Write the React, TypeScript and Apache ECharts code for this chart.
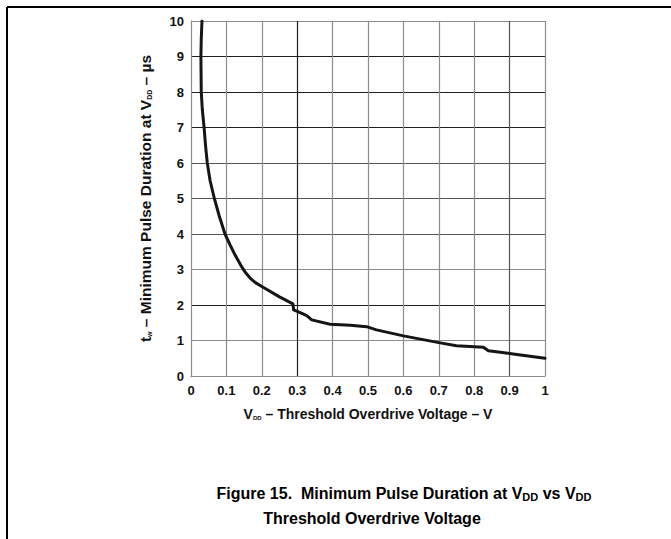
import React, { useEffect, useRef } from "react";
import * as echarts from "echarts";

// Threshold overdrive voltage (V)
const overdriveV = [
  0.031, 0.029, 0.028, 0.029, 0.032, 0.037, 0.041, 0.046, 0.054, 0.066, 0.080, 0.096, 0.110,
  0.125, 0.143, 0.155, 0.167, 0.182, 0.200, 0.250, 0.288, 0.290, 0.310, 0.327, 0.341, 0.393, 0.450,
  0.496, 0.524, 0.600, 0.700, 0.750, 0.826, 0.840, 0.910, 1.000,
];
// Minimum pulse duration (µs)
const pulseUs = [
  10.0, 9.5, 9.0, 8.0, 7.5, 7.0, 6.5, 6.0, 5.5, 5.0, 4.5, 4.0, 3.7,
  3.4, 3.08, 2.9, 2.76, 2.63, 2.52, 2.23, 2.03, 1.86, 1.78, 1.70, 1.58, 1.46, 1.43,
  1.39, 1.30, 1.13, 0.94, 0.85, 0.81, 0.71, 0.62, 0.50,
];

const xTicks = [0, 0.1, 0.2, 0.3, 0.4, 0.5, 0.6, 0.7, 0.8, 0.9, 1];
const yTicks = [0, 1, 2, 3, 4, 5, 6, 7, 8, 9, 10];

const G = "#8c8c8c";
const M = "#555555";
const D = "#1e1e1e";
const xGridColors = [G, G, G, D, G, G, G, G, G, M, G];
const yGridColors = [G, G, D, G, M, M, M, D, D, D, G];

const FONT = "Liberation Sans, Arial, Helvetica, sans-serif";

export default function App() {
  const ref = useRef<HTMLDivElement>(null);
  useEffect(() => {
    if (!ref.current) return;
    const chart = echarts.init(ref.current, undefined, { renderer: "svg" });
    const data = overdriveV.map((v, i) => [v, pulseUs[i]]);
    chart.setOption({
      animation: false,
      backgroundColor: "#ffffff",
      grid: { left: 191, right: 126, top: 21, bottom: 163 },
      xAxis: {
        type: "value",
        min: xTicks[0],
        max: xTicks[xTicks.length - 1],
        interval: 0.1,
        axisLine: { show: true, lineStyle: { color: G, width: 1 } },
        axisTick: { show: false },
        axisLabel: {
          color: "#111",
          fontFamily: FONT,
          fontWeight: "bold",
          fontSize: 13,
          margin: 8,
        },
        splitLine: { show: true, lineStyle: { color: xGridColors, width: 1.2 } },
        name: "{v|V}{sub|DD}{t| – Threshold Overdrive Voltage – V}",
        nameLocation: "middle",
        nameGap: 31,
        nameTextStyle: {
          rich: {
            v: { fontFamily: FONT, fontWeight: "bold", fontSize: 14, color: "#111" },
            t: { fontFamily: FONT, fontWeight: "bold", fontSize: 14, color: "#111" },
            sub: {
              fontFamily: FONT,
              fontWeight: "bold",
              fontSize: 6,
              color: "#111",
              verticalAlign: "bottom",
              padding: [6, 0, 0, 0],
            },
          },
        },
      },
      yAxis: {
        type: "value",
        min: yTicks[0],
        max: yTicks[yTicks.length - 1],
        interval: 1,
        axisLine: { show: true, lineStyle: { color: G, width: 1 } },
        axisTick: { show: false },
        axisLabel: {
          color: "#111",
          fontFamily: FONT,
          fontWeight: "bold",
          fontSize: 13,
          margin: 7,
        },
        splitLine: { show: true, lineStyle: { color: yGridColors, width: 1.2 } },
        name: "{t|t}{sub|w}{t| – Minimum Pulse Duration at V}{sub|DD}{t| – µs}",
        nameLocation: "middle",
        nameGap: 38,
        nameRotate: 90,
        nameTextStyle: {
          rich: {
            t: { fontFamily: FONT, fontWeight: "bold", fontSize: 15.5, color: "#111" },
            sub: {
              fontFamily: FONT,
              fontWeight: "bold",
              fontSize: 7,
              color: "#111",
              verticalAlign: "bottom",
              padding: [7, 0, 0, 0],
            },
          },
        },
      },
      series: [
        {
          type: "line",
          data,
          showSymbol: false,
          smooth: false,
          lineStyle: { color: "#151515", width: 3, join: "round", cap: "round" },
          clip: true,
        },
      ],
      graphic: [
        {
          type: "line",
          shape: { x1: 7, y1: 7, x2: 671, y2: 7 },
          style: { stroke: "#000", lineWidth: 2 },
        },
        {
          type: "line",
          shape: { x1: 7, y1: 7, x2: 7, y2: 539 },
          style: { stroke: "#000", lineWidth: 2 },
        },
        {
          type: "text",
          x: 404,
          y: 493,
          style: {
            text: "{a|Figure 15.  Minimum Pulse Duration at V}{s|DD}{a| vs V}{s|DD}",
            align: "center",
            verticalAlign: "middle",
            rich: {
              a: { fontFamily: FONT, fontWeight: "bold", fontSize: 16, fill: "#000" },
              s: {
                fontFamily: FONT,
                fontWeight: "bold",
                fontSize: 11,
                fill: "#000",
                verticalAlign: "bottom",
                padding: [8, 0, 0, 0],
              },
            },
          },
        },
        {
          type: "text",
          x: 372,
          y: 518,
          style: {
            text: "Threshold Overdrive Voltage",
            align: "center",
            verticalAlign: "middle",
            fontFamily: FONT,
            fontWeight: "bold",
            fontSize: 16,
            fill: "#000",
          },
        },
      ],
    });
    return () => chart.dispose();
  }, []);
  return <div ref={ref} style={{ width: 671, height: 539, position: "absolute", left: 0, top: 0 }} />;
}
